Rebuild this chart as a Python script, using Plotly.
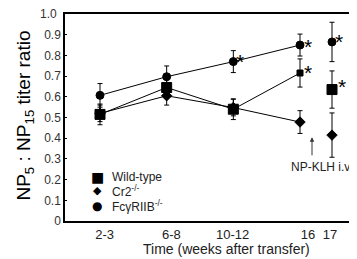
import plotly.graph_objects as go

# ---- data ----
time_labels = ["2-3", "6-8", "10-12", "16", "17"]
x_points = [1, 2, 3, 4, 4.48]            # position of each time group on the axis
x_label_pos = [1.07, 2.07, 2.99, 4.12, 4.45]

wt_vals = [0.515, 0.645, 0.54, 0.715, 0.635]
wt_err = [0.05, 0.045, 0.05, 0.068, 0.09]
wt_size = [10, 10, 10, 6, 10]

cr2_vals = [0.52, 0.605, 0.548, 0.478, 0.415]
cr2_err = [0.04, 0.045, 0.04, 0.055, 0.107]

fc_vals = [0.607, 0.697, 0.77, 0.85, 0.865]
fc_err = [0.057, 0.052, 0.053, 0.053, 0.095]

y_ticks = [0, 0.1, 0.2, 0.3, 0.4, 0.5, 0.6, 0.7, 0.8, 0.9, 1.0]
y_ticktext = ["0", "0.1", "0.2", "0.3", "0.4", "0.5", "0.6", "0.7", "0.8", "0.9", ""]
y_top_label = "1.0"   # drawn separately: plotly drops the top tick label at the div edge

# significance asterisks (x, y)
stars_x = [3.1, 4.12, 4.12, 4.59, 4.63]
stars_y = [0.80, 0.874, 0.744, 0.894, 0.678]

FONT = "Liberation Sans, Arial, Helvetica, sans-serif"

fig = go.Figure()

series = [
    ("Wild-type", wt_vals, wt_err, "square", wt_size),
    ("Cr2", cr2_vals, cr2_err, "diamond", 8),
    ("FcγRIIB", fc_vals, fc_err, "circle", 8),
]

# connecting lines (first four time groups only)
for name, vals, err, sym, size in series:
    fig.add_trace(go.Scatter(
        x=x_points[:4], y=vals[:4], mode="lines",
        line=dict(color="black", width=1), showlegend=False, hoverinfo="skip"))

for name, vals, err, sym, size in series:
    fig.add_trace(go.Scatter(
        x=x_points, y=vals, mode="markers", name=name, opacity=1,
        marker=dict(symbol=sym, size=size, color="#000000", opacity=1,
                    line=dict(width=1, color="#000000")),
        error_y=dict(type="data", array=err, visible=True, color="black",
                     thickness=1, width=2.5),
        showlegend=False))

annotations = []
for sx, sy in zip(stars_x, stars_y):
    annotations.append(dict(x=sx, y=sy, xref="x", yref="y", text="*",
                            showarrow=False, yshift=-6, xanchor="center", yanchor="middle",
                            font=dict(family=FONT, size=21, color="black")))

# top y tick label
annotations.append(dict(x=-0.022, y=1.0, xref="paper", yref="y", text=y_top_label,
                        showarrow=False, xanchor="right", yanchor="middle",
                        font=dict(family=FONT, size=12, color="#333")))

# NP-KLH arrow
annotations.append(dict(x=4.18, y=0.405, xref="x", yref="y", ax=4.18, ay=0.31,
                        axref="x", ayref="y", text="", showarrow=True,
                        arrowhead=2, arrowsize=0.9, arrowwidth=1, arrowcolor="#333"))
annotations.append(dict(x=4.325, y=0.262, xref="x", yref="y", text="NP-KLH i.v.",
                        showarrow=False, xanchor="center", yanchor="middle",
                        font=dict(family=FONT, size=12, color="#222")))

# legend (text entries)
legend_rows = [("■", "Wild-type", 0.213, 14), ("◆", "Cr2<sup>-/-</sup>", 0.145, 11),
               ("●", "FcγRIIB<sup>-/-</sup>", 0.072, 12)]
for glyph, label, ly, gs in legend_rows:
    annotations.append(dict(x=0.11, y=ly, xref="paper", yref="paper", text=glyph,
                            showarrow=False, xanchor="center", yanchor="middle",
                            font=dict(family="DejaVu Sans", size=gs, color="black")))
    annotations.append(dict(x=0.155, y=ly, xref="paper", yref="paper", text=label,
                            showarrow=False, xanchor="left", yanchor="middle",
                            font=dict(family=FONT, size=12, color="#222")))

# x title
annotations.append(dict(x=0.555, y=-0.135, xref="paper", yref="paper",
                        text="Time (weeks after transfer)", showarrow=False,
                        xanchor="center", yanchor="middle",
                        font=dict(family=FONT, size=14, color="#222")))

# y title
annotations.append(dict(x=-0.137, y=0.51, xref="paper", yref="paper",
                        text="NP<sub>5</sub> : NP<sub>15</sub> titer ratio",
                        textangle=-90, showarrow=False, xanchor="center", yanchor="middle",
                        font=dict(family=FONT, size=19, color="black")))

# The page body has an 8px default margin, so the figure is 8px smaller.
fig.update_layout(
    width=349, height=251,
    margin=dict(l=57, r=1, t=6, b=38),
    paper_bgcolor="white", plot_bgcolor="white",
    annotations=annotations,
    showlegend=False,
    xaxis=dict(range=[0.475, 4.84], tickvals=x_label_pos, ticktext=time_labels,
               showline=True, linecolor="black", linewidth=2, mirror=True,
               ticks="", showgrid=False, zeroline=False, automargin=False,
               tickfont=dict(family=FONT, size=13, color="#222")),
    yaxis=dict(range=[0, 1.0], tickvals=y_ticks, ticktext=y_ticktext,
               showline=True, linecolor="black", linewidth=1.5,
               ticks="inside", ticklen=2, tickcolor="black",
               showgrid=False, zeroline=False, automargin=False,
               tickfont=dict(family=FONT, size=12, color="#333")),
)

fig.write_html("out.html")
